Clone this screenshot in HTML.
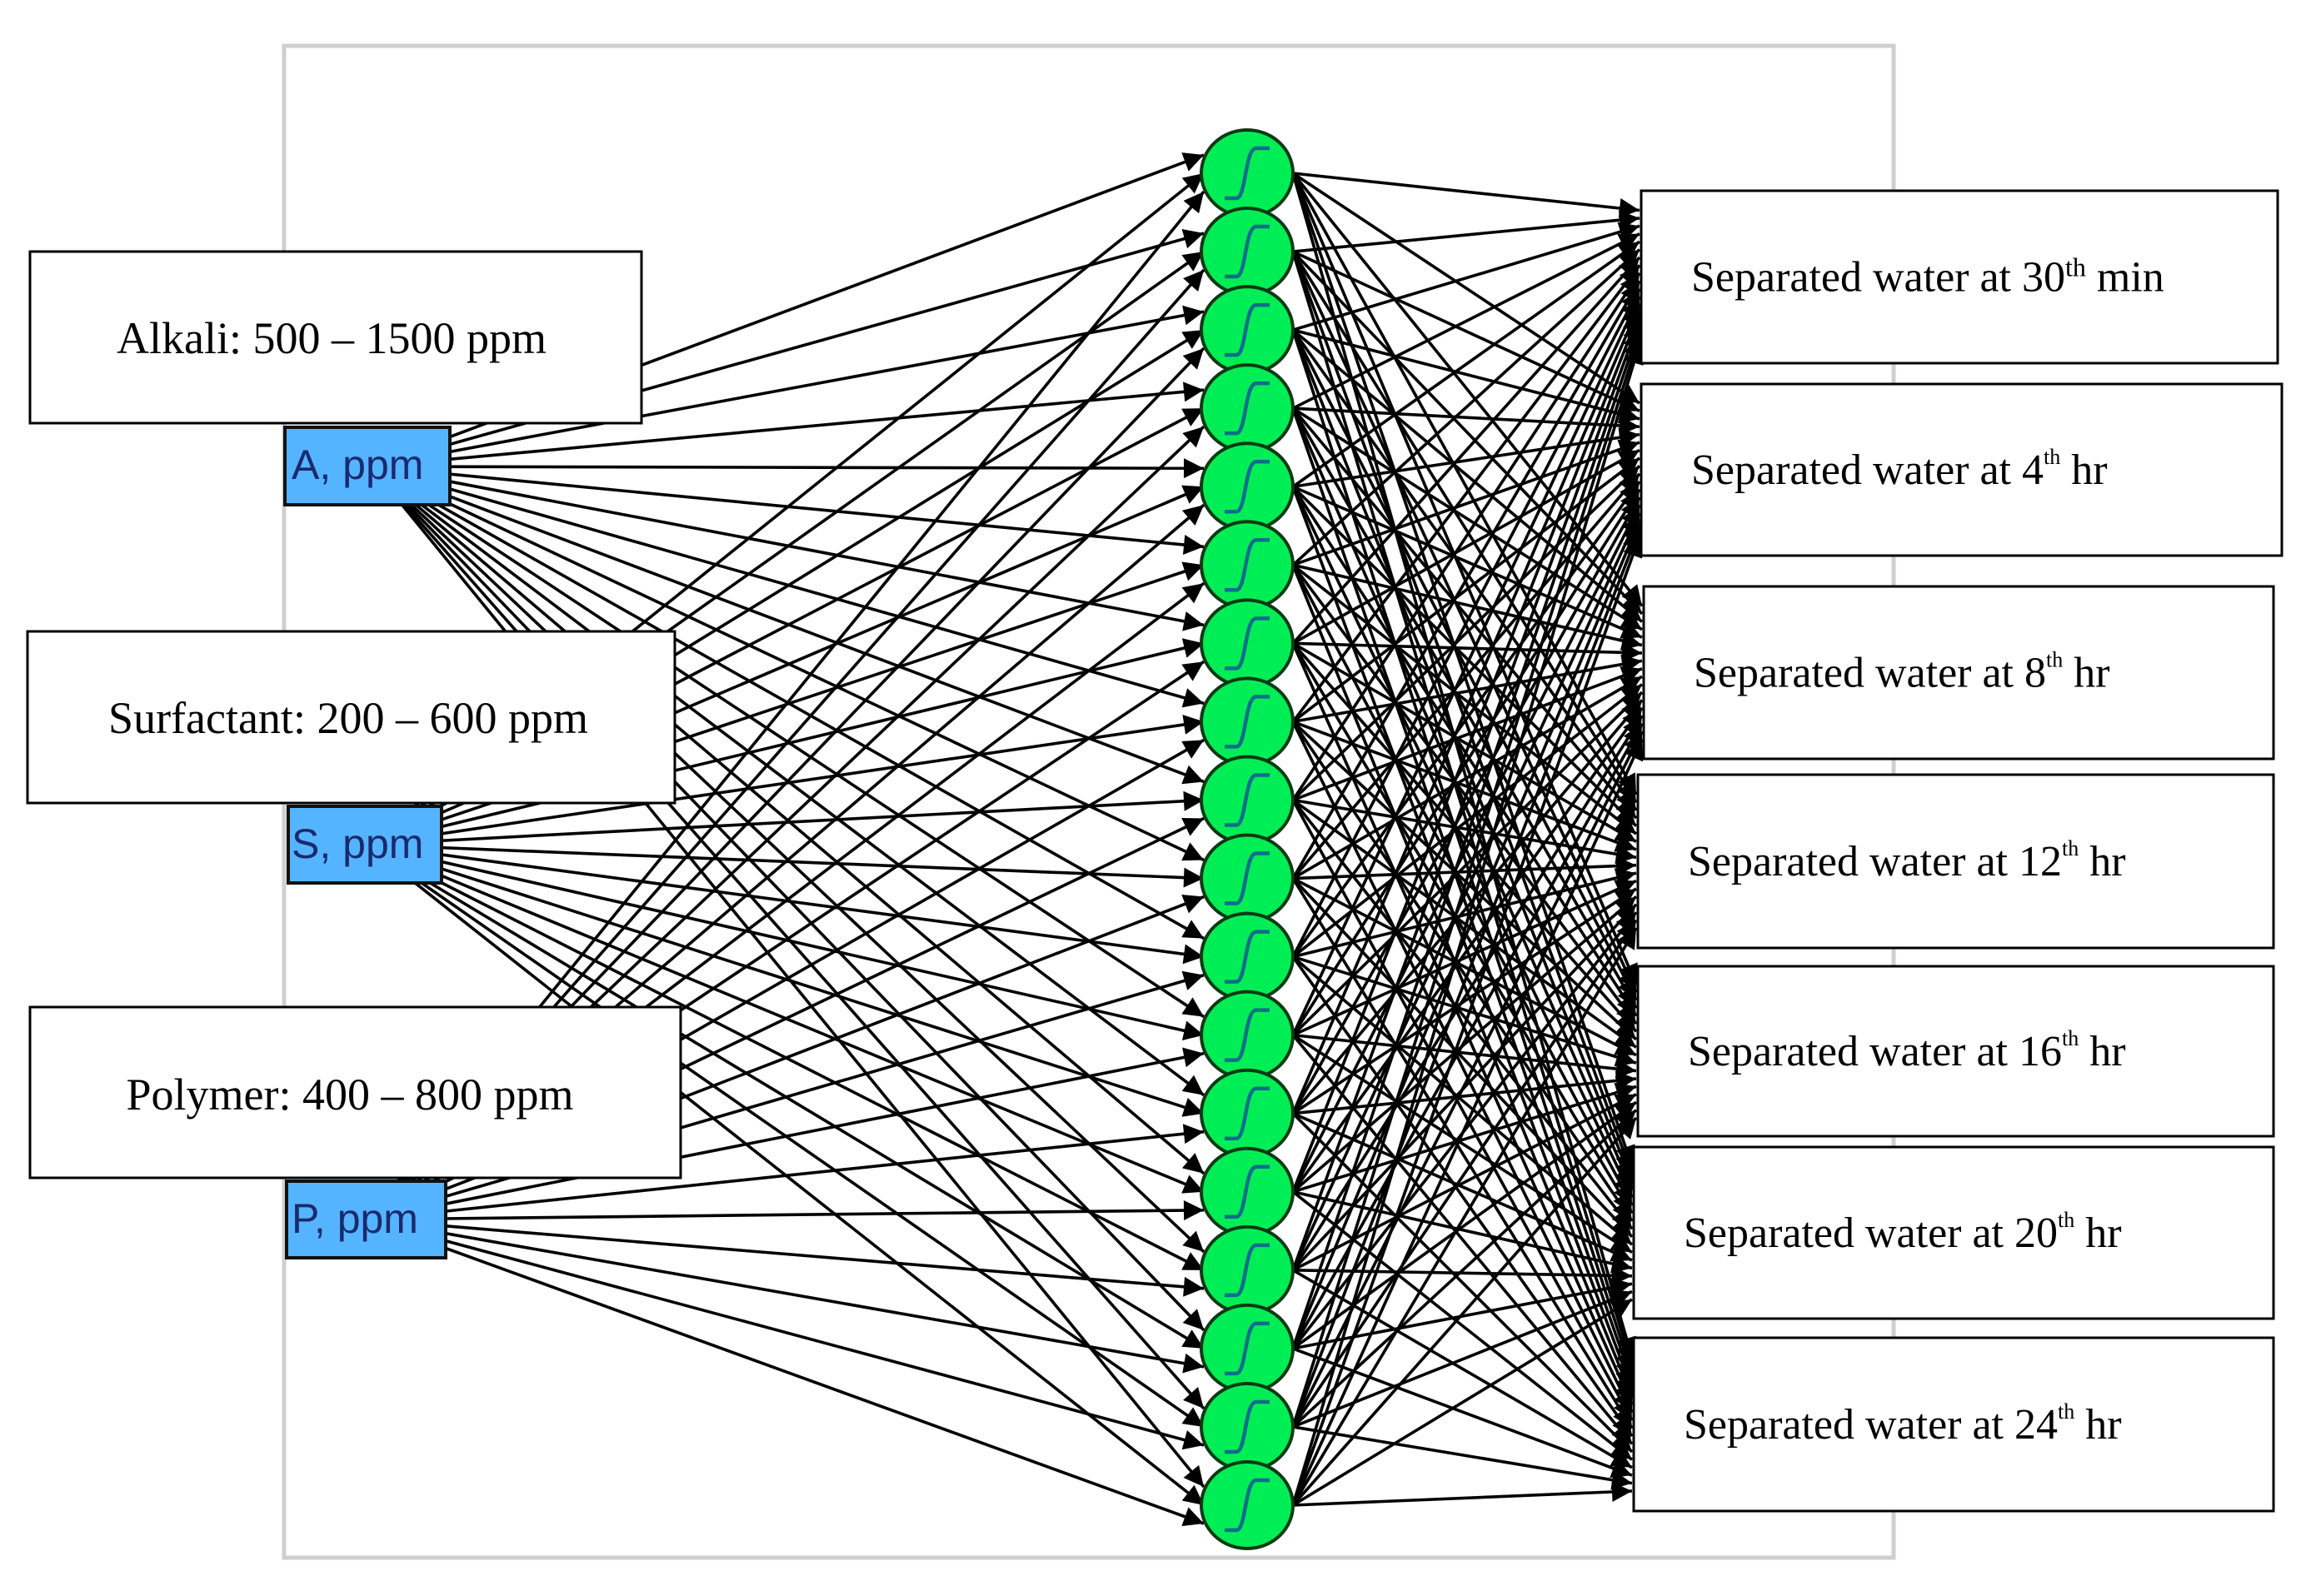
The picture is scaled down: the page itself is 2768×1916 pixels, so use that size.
<!DOCTYPE html>
<html><head><meta charset="utf-8">
<style>
html,body{margin:0;padding:0;background:#fff;}
svg{display:block;}
.lab{font-family:"Liberation Serif",serif;font-size:54px;fill:#000;}
.out{font-family:"Liberation Serif",serif;font-size:52px;fill:#000;}
.inp{font-family:"Liberation Sans",sans-serif;font-size:50px;fill:#1a2a6e;}
</style></head><body>
<svg id="s" width="2768" height="1916" viewBox="0 0 2768 1916" xmlns="http://www.w3.org/2000/svg">
<defs>
<marker id="ar" viewBox="0 0 10 10" refX="10" refY="5" markerWidth="30" markerHeight="24" markerUnits="userSpaceOnUse" orient="auto">
<path d="M0,0 L10,5 L0,10 z" fill="#000"/></marker>
</defs>
<rect x="341" y="55" width="1932" height="1815" fill="none" stroke="#cfcfcf" stroke-width="5"/>
<g id="lines" stroke="#000" stroke-width="3.6" fill="none"></g>
<g id="nodes"></g>
<rect x="342" y="513" width="198" height="93" fill="#55b4ff" stroke="#111" stroke-width="4"/>
<text class="inp" x="350" y="575">A, ppm</text>
<rect x="346" y="968" width="184" height="92" fill="#55b4ff" stroke="#111" stroke-width="4"/>
<text class="inp" x="350" y="1030">S, ppm</text>
<rect x="344" y="1418" width="191" height="92" fill="#55b4ff" stroke="#111" stroke-width="4"/>
<text class="inp" x="350" y="1480">P, ppm</text>
<rect x="36" y="302" width="734" height="206" fill="#fff" stroke="#000" stroke-width="3"/>
<text class="lab" x="398" y="424" text-anchor="middle">Alkali: 500 – 1500 ppm</text>
<rect x="33" y="758" width="777" height="206" fill="#fff" stroke="#000" stroke-width="3"/>
<text class="lab" x="418" y="880" text-anchor="middle">Surfactant:  200 – 600 ppm</text>
<rect x="36" y="1209" width="781" height="205" fill="#fff" stroke="#000" stroke-width="3"/>
<text class="lab" x="420" y="1332" text-anchor="middle">Polymer: 400 – 800 ppm</text>
<g id="outs"></g>
</svg>
<script>
var NS="http://www.w3.org/2000/svg";
function el(t,a,p){var e=document.createElementNS(NS,t);for(var k in a)e.setAttribute(k,a[k]);p.appendChild(e);return e;}
var L=document.getElementById('lines'),N=document.getElementById('nodes'),O=document.getElementById('outs');
var H=[];for(var i=0;i<18;i++)H.push(208+i*(1807-208)/17);
var inp=[[445,560],[440,1014],[440,1464]];
var outs=[[1970,229,2734,436,"30","th"," min",true],[1970,461,2739,667,"4","th"," hr"],[1973,704,2729,911,"8","th"," hr"],[1966,930,2729,1138,"12","th"," hr"],[1966,1160,2729,1364,"16","th"," hr"],[1961,1377,2729,1583,"20","th"," hr"],[1961,1606,2729,1814,"24","th"," hr"]];
for(var j=0;j<3;j++)for(var i=0;i<18;i++){
 var ty=H[i]+(j-1)*22;
 el('line',{x1:inp[j][0],y1:inp[j][1],x2:1445,y2:ty,'marker-end':'url(#ar)'},L);
}
for(var k=0;k<7;k++){var c=(outs[k][1]+outs[k][3])/2;
 for(var i=0;i<18;i++){
  var ty=c-80+i*(160/17);
  el('line',{x1:1552,y1:H[i],x2:outs[k][0]-2,y2:ty,'marker-end':'url(#ar)'},L);
 }}
for(var i=0;i<18;i++){var y=H[i];
 el('ellipse',{cx:1497,cy:y,rx:55,ry:52,fill:'#00ee55',stroke:'#0a3a14','stroke-width':4},N);
 el('path',{d:'M1470,'+(y+30)+' L1484,'+(y+30)+' C1496,'+(y+30)+' 1494,'+(y-30)+' 1508,'+(y-30)+' L1524,'+(y-30),fill:'none',stroke:'#0e6e8a','stroke-width':4.5},N);
}
for(var k=0;k<7;k++){var o=outs[k];
 el('rect',{x:o[0],y:o[1],width:o[2]-o[0],height:o[3]-o[1],fill:'#fff',stroke:'#000','stroke-width':3},O);
 var t=el('text',{'class':'out',x:o[0]+60,y:(o[1]+o[3])/2+17},O);
 t.appendChild(document.createTextNode("Separated water at "+o[4]));
 var s=el('tspan',{'font-size':o[7]?'32':'26',dy:o[7]?'-18':'-24'},t);s.textContent=o[5];
 var r=el('tspan',{dy:o[7]?'18':'24'},t);r.textContent=o[6];
}
</script>
</body></html>
